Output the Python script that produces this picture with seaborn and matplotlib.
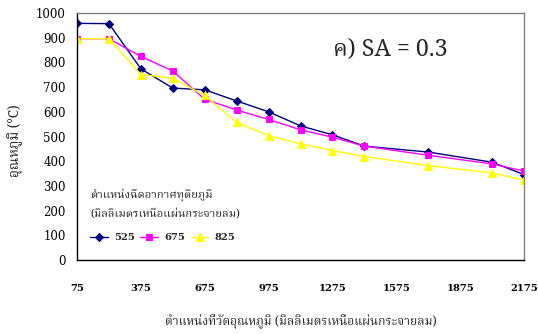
import matplotlib
matplotlib.use("Agg")
import matplotlib.pyplot as plt
import seaborn as sns
import pandas as pd

# Measurement positions (mm above the distributor plate)
positions = [75, 225, 375, 525, 675, 825, 975, 1125, 1275, 1425, 1725, 2025, 2175]

# Temperature profiles (°C) for each secondary-air injection height
temp_525 = [958, 957, 774, 696, 689, 644, 600, 543, 507, 461, 437, 396, 346]
temp_675 = [896, 896, 824, 765, 651, 607, 569, 527, 497, 461, 424, 389, 360]
temp_825 = [896, 896, 751, 736, 666, 557, 503, 470, 443, 419, 382, 353, 323]

series_labels = ["525", "675", "825"]
series_colors = ["#000080", "#FF00FF", "#FFFF00"]
series_markers = ["D", "s", "^"]
marker_sizes = [3.6, 4.6, 5.2]

x_ticks = [75, 375, 675, 975, 1275, 1575, 1875, 2175]
y_ticks = [0, 100, 200, 300, 400, 500, 600, 700, 800, 900, 1000]

panel_title = "ค) SA = 0.3"
x_label = "ตำแหน่งที่วัดอุณหภูมิ (มิลลิเมตรเหนือแผ่นกระจายลม)"
y_label = "อุณหภูมิ (°C)"
legend_title_1 = "ตำแหน่งฉีดอากาศทุติยภูมิ"
legend_title_2 = "(มิลลิเมตรเหนือแผ่นกระจายลม)"

sns.set_style("white")
THAI = ["Noto Serif Thai", "DejaVu Serif"]
NUM = ["DejaVu Serif"]
plt.rcParams["font.family"] = THAI

W, H = 538, 334
frames = []
for lab, vals in zip(series_labels, [temp_525, temp_675, temp_825]):
    frames.append(pd.DataFrame({"pos": positions, "temp": vals, "inj": lab}))
df = pd.concat(frames, ignore_index=True)

fig = plt.figure(figsize=(W / 100, H / 100), dpi=100)
renderer = fig.canvas.get_renderer()
ax = fig.add_axes([77 / W, 1 - 260 / H, (524 - 77) / W, (260 - 13) / H])


def fit_size(text, target_px, base=10.0, rotation=0):
    """Font size (pt) at which `text` spans target_px pixels."""
    t = fig.text(0, 0, text, fontsize=base, family=THAI, rotation=rotation)
    bb = t.get_window_extent(renderer)
    span = bb.height if rotation else bb.width
    t.remove()
    return base * target_px / span


for lab, col, mk, ms in zip(series_labels, series_colors, series_markers, marker_sizes):
    sub = df[df["inj"] == lab]
    sns.lineplot(data=sub, x="pos", y="temp", ax=ax, color=col, marker=mk,
                 markersize=ms, markeredgecolor=col, linewidth=1.0, label=lab)

ax.set_xlim(75, 2175)
ax.set_ylim(0, 1000)
ax.set_xticks(x_ticks)
ax.set_yticks(y_ticks)
ax.tick_params(axis="x", direction="out", length=4, width=1, pad=13,
               colors="black")
ax.tick_params(axis="y", direction="out", length=4, width=1, pad=4,
               colors="black")
for t in ax.get_xticklabels():
    t.set_fontfamily(NUM)
    t.set_fontsize(7.2)
    t.set_fontweight("bold")
for t in ax.get_yticklabels():
    t.set_fontfamily(NUM)
    t.set_fontsize(8.5)

for side in ["left", "bottom"]:
    ax.spines[side].set_color("black")
    ax.spines[side].set_linewidth(1.0)
for side in ["top", "right"]:
    ax.spines[side].set_color("#808080")
    ax.spines[side].set_linewidth(1.0)
ax.set_xlabel("")
ax.set_ylabel("")

# Axis titles
fig.text(301 / W, 1 - 322 / H, x_label, fontsize=fit_size(x_label, 272),
         ha="center", va="center")
fig.text(15 / W, 1 - 141 / H, y_label, fontsize=fit_size(y_label, 73, rotation=90),
         rotation=90, ha="center", va="center")

# Panel title
fig.text(333 / W, 1 - 50 / H, panel_title, fontsize=fit_size(panel_title, 115),
         ha="left", va="center")

# Legend with a two-line title
title_size = fit_size(legend_title_2, 151)
handles, labels = ax.get_legend_handles_labels()
leg = ax.legend(handles, labels, ncol=3, frameon=False,
                title=legend_title_1 + "\n" + legend_title_2,
                title_fontproperties={"family": THAI, "size": title_size},
                prop={"family": NUM, "size": 7.2, "weight": "bold"},
                loc="lower left", bbox_to_anchor=((90 - 77) / 447, (260 - 242) / 247),
                handlelength=1.75, handletextpad=0.65, columnspacing=0.55,
                alignment="left", borderpad=0, borderaxespad=0,
                labelspacing=1.3)
leg.get_title().set_linespacing(1.85)

fig.savefig("out.png", dpi=100)
